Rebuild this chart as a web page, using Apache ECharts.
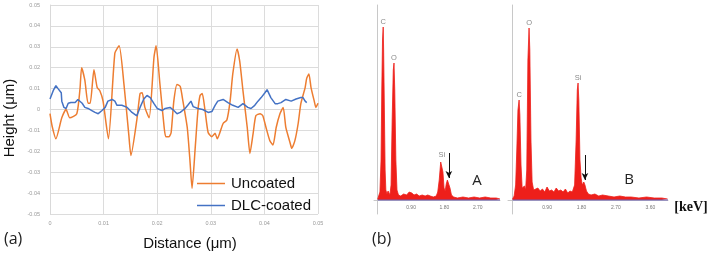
<!DOCTYPE html>
<html><head><meta charset="utf-8">
<script src="https://cdn.jsdelivr.net/npm/echarts@6/dist/echarts.min.js"></script>
<style>html,body{margin:0;padding:0;background:#fff}#c{width:709px;height:253px}</style>
</head><body><div id="c"></div>
<script>
// ---- Panel (a): surface profile ----
const seriesNames = ['Uncoated', 'DLC-coated'];
const xTicks = ['0', '0.01', '0.02', '0.03', '0.04', '0.05'];
const uncoated = [
[0.0000,-0.002],[0.0004,-0.008],[0.0011,-0.014],[0.0022,-0.004],[0.0030,0.000],[0.0037,-0.004],
[0.0050,-0.002],[0.0056,0.010],[0.0059,0.020],[0.0065,0.014],[0.0071,0.003],[0.0075,0.003],
[0.0082,0.019],[0.0088,0.0105],[0.0093,0.009],[0.0099,0.004],[0.0109,-0.014],[0.0121,0.027],
[0.0129,0.0305],[0.0138,0.012],[0.0147,-0.012],[0.0151,-0.022],[0.0162,-0.005],[0.0168,0.0076],
[0.0172,0.008],[0.0177,0.001],[0.0185,-0.004],[0.0194,0.025],[0.0198,0.0305],[0.0205,0.0124],
[0.0213,-0.0086],[0.0216,-0.013],[0.0222,-0.013],[0.0226,-0.011],[0.0231,0.004],[0.0237,0.012],
[0.0243,0.011],[0.0248,0.004],[0.0256,-0.0085],[0.0261,-0.024],[0.0265,-0.0377],[0.0271,-0.018],
[0.0276,-0.0005],[0.0280,0.0067],[0.0284,0.0076],[0.0289,0.000],[0.0295,-0.011],[0.0302,-0.013],
[0.0308,-0.0114],[0.0312,-0.014],[0.0317,-0.011],[0.0323,-0.0067],[0.0330,-0.005],[0.0336,0.004],
[0.0341,0.017],[0.0349,0.029],[0.0354,0.023],[0.0360,0.009],[0.0368,-0.0086],[0.0373,-0.021],
[0.0379,-0.0114],[0.0384,-0.003],[0.0392,-0.002],[0.0397,-0.003],[0.0403,-0.0086],[0.0410,-0.0148],
[0.0416,-0.017],[0.0422,-0.0086],[0.0429,-0.002],[0.0435,0.001],[0.0440,-0.0086],[0.0448,-0.016],
[0.0451,-0.0186],[0.0457,-0.0148],[0.0463,-0.0067],[0.0468,0.0028],[0.0476,0.0105],[0.0479,0.015],
[0.0483,0.017],[0.0487,0.0105],[0.0493,0.004],[0.0496,0.001],[0.0500,0.003]
];
const dlcCoated = [
[0.0000,0.005],[0.0006,0.009],[0.0011,0.0114],[0.0015,0.010],[0.0021,0.008],[0.0022,0.004],
[0.0026,0.001],[0.0030,0.0005],[0.0034,0.003],[0.0039,0.0033],[0.0047,0.0033],[0.0052,0.0048],
[0.0060,0.003],[0.0065,0.001],[0.0071,0.0005],[0.0078,-0.0005],[0.0084,-0.0014],[0.0090,-0.002],
[0.0097,-0.0005],[0.0103,0.001],[0.0108,0.004],[0.0116,0.0048],[0.0121,0.004],[0.0125,0.002],
[0.0134,0.002],[0.0144,0.001],[0.0153,-0.0014],[0.0162,-0.003],[0.0168,0.001],[0.0175,0.005],
[0.0181,0.0067],[0.0187,0.0057],[0.0194,0.0028],[0.0200,0.0005],[0.0209,-0.0005],[0.0215,0.0005],
[0.0224,0.001],[0.0231,-0.0005],[0.0237,-0.002],[0.0243,-0.0014],[0.0252,0.0005],[0.0257,0.002],
[0.0263,0.004],[0.0267,0.0014],[0.0276,0.0005],[0.0285,0.000],[0.0295,-0.0014],[0.0302,-0.001],
[0.0308,0.002],[0.0313,0.004],[0.0323,0.0048],[0.0332,0.0033],[0.0341,0.002],[0.0351,0.001],
[0.0360,0.0028],[0.0369,0.001],[0.0375,0.0005],[0.0382,0.002],[0.0388,0.004],[0.0394,0.0057],
[0.0401,0.008],[0.0405,0.0095],[0.0412,0.0057],[0.0420,0.0028],[0.0425,0.0028],[0.0431,0.0033],
[0.0440,0.0048],[0.0450,0.004],[0.0459,0.005],[0.0468,0.0057],[0.0472,0.0057],[0.0476,0.004],
[0.0479,0.0033]
];

// ---- Panel (b): EDS spectra (keV, relative counts) ----
const keVTicksA = [0.9, 1.8, 2.7];
const keVTicksB = [0.9, 1.8, 2.7, 3.6];
const spectrumA = [
[0.00,1],[0.03,3],[0.06,8],[0.09,40],[0.11,110],[0.13,160],[0.148,173],[0.16,150],[0.18,90],[0.20,30],
[0.22,10],[0.25,6],[0.28,9],[0.30,7],[0.33,5],[0.36,15],[0.39,80],[0.42,130],[0.44,137],[0.46,110],
[0.49,40],[0.52,10],[0.56,5],[0.62,4],[0.70,6],[0.78,5],[0.85,8],[0.92,7],[0.98,5],[1.05,6],[1.12,4],
[1.20,5],[1.28,4],[1.35,5],[1.42,4],[1.50,3],[1.58,4],[1.62,8],[1.66,20],[1.70,38],[1.73,40],[1.76,28],
[1.79,12],[1.82,9],[1.85,16],[1.88,20],[1.91,18],[1.95,12],[1.99,5],[2.05,3],[2.15,2],[2.30,3],[2.45,2],
[2.60,3],[2.75,2],[2.90,3],[3.05,2],[3.20,2],[3.30,1]
];
const spectrumB = [
[0.00,1],[0.04,4],[0.08,15],[0.11,50],[0.14,90],[0.17,100],[0.19,85],[0.22,35],[0.25,12],[0.28,10],
[0.31,14],[0.34,10],[0.37,30],[0.40,140],[0.43,172],[0.45,150],[0.48,60],[0.51,18],[0.55,10],[0.60,8],
[0.66,12],[0.72,9],[0.78,11],[0.84,8],[0.90,13],[0.96,9],[1.02,10],[1.08,8],[1.14,12],[1.20,9],[1.26,10],
[1.32,8],[1.38,11],[1.44,7],[1.50,9],[1.56,8],[1.62,15],[1.66,60],[1.69,110],[1.71,117],[1.73,100],
[1.76,40],[1.79,22],[1.82,15],[1.86,18],[1.89,15],[1.93,9],[1.98,6],[2.05,5],[2.15,6],[2.25,4],[2.35,5],
[2.50,4],[2.65,3],[2.80,4],[2.95,3],[3.10,3],[3.30,2],[3.50,3],[3.70,2],[3.90,2],[4.05,1]
];
const peakNames = ['C', 'O', 'Si'];
const peaksA = [[0.148,173],[0.44,137],[1.73,40]];
const peaksB = [[0.17,100],[0.43,172],[1.71,117]];
const arrowA = [[1.92,47],[1.92,22]];
const arrowB = [[1.89,45],[1.89,20]];

const FONT = 'Liberation Sans, Arial, sans-serif';
const red = '#ee1f1a';

function peakMarks(peaks) {
  return {
    symbol: 'circle', symbolSize: 0, silent: true,
    label: { show: true, position: 'top', distance: 1, color: '#8a8a8a', fontSize: 7.5, fontFamily: FONT,
             formatter: p => p.name },
    data: peaks.map((c, i) => ({ name: peakNames[i], coord: c }))
  };
}
function arrowMark(a) {
  return {
    silent: true, symbol: ['none', 'arrow'], symbolSize: [5, 7],
    lineStyle: { color: '#111', width: 1, type: 'solid' },
    label: { show: false },
    data: [[{ coord: a[0] }, { coord: a[1] }]]
  };
}
function specX(idx, min, max, ticks) {
  return {
    type: 'value', gridIndex: idx, min: min, max: max,
    axisLine: { show: true, lineStyle: { color: '#c8c8c8', width: 1 } },
    axisTick: { show: false },
    splitLine: { show: false },
    axisLabel: { show: true, inside: true, margin: 4, fontSize: 5, color: '#777', fontFamily: FONT,
                 customValues: ticks, formatter: v => v.toFixed(2) }
  };
}
function specY(idx) {
  return {
    type: 'value', gridIndex: idx, min: -14, max: 195,
    axisLine: { show: true, lineStyle: { color: '#c8c8c8', width: 1 } },
    axisTick: { show: false }, axisLabel: { show: false }, splitLine: { show: false }
  };
}

const chart = echarts.init(document.getElementById('c'), null, { renderer: 'canvas' });
chart.setOption({
  animation: false,
  backgroundColor: '#fff',
  grid: [
    { left: 50, right: 391, top: 5, bottom: 39 },
    { left: 374, width: 126, top: 5, height: 209 },
    { left: 508, width: 160, top: 5, height: 209 }
  ],
  legend: {
    data: seriesNames, orient: 'vertical', left: 197, top: 176,
    icon: 'rect', itemWidth: 28, itemHeight: 1.5, itemGap: 7, padding: 0,
    textStyle: { fontSize: 15, color: '#111', fontFamily: FONT, padding: [0, 0, 0, 1] }
  },
  xAxis: [
    { type: 'value', gridIndex: 0, min: 0, max: 0.05, interval: 0.01,
      axisLine: { show: true, lineStyle: { color: '#d9d9d9' } }, axisTick: { show: false },
      splitLine: { show: true, lineStyle: { color: '#dcdcdc', width: 1 } },
      axisLabel: { fontSize: 5.5, color: '#999', margin: 6, fontFamily: FONT,
                   formatter: v => xTicks[Math.round(v / 0.01)] } },
    specX(1, -0.1, 3.3, keVTicksA),
    specX(2, -0.12, 4.06, keVTicksB)
  ],
  yAxis: [
    { type: 'value', gridIndex: 0, min: -0.05, max: 0.05, interval: 0.01,
      axisLine: { show: true, lineStyle: { color: '#d9d9d9' } }, axisTick: { show: false },
      splitLine: { show: true, lineStyle: { color: '#dcdcdc', width: 1 } },
      axisLabel: { fontSize: 5.5, color: '#999', margin: 10, fontFamily: FONT,
                   formatter: v => Math.abs(v) < 1e-9 ? '0' : v.toFixed(2) } },
    specY(1), specY(2)
  ],
  graphic: [
    { type: 'text', left: 4, top: 231, style: { text: '(a)', fontSize: 16, fill: '#222', fontFamily: 'Open Sans, ' + FONT } },
    { type: 'text', left: 372, top: 231, style: { text: '(b)', fontSize: 16, fill: '#222', fontFamily: 'Open Sans, ' + FONT } },
    { type: 'text', x: 10, y: 118, rotation: Math.PI / 2,
      style: { text: 'Height (μm)', fontSize: 15, fill: '#111', fontFamily: FONT, align: 'center', verticalAlign: 'middle' } },
    { type: 'text', x: 190, y: 244,
      style: { text: 'Distance (μm)', fontSize: 15, fill: '#111', fontFamily: FONT, align: 'center', verticalAlign: 'middle' } },
    { type: 'text', x: 477, y: 181,
      style: { text: 'A', fontSize: 15, fill: '#222', fontFamily: 'Open Sans, ' + FONT, align: 'center', verticalAlign: 'middle' } },
    { type: 'text', x: 629, y: 180,
      style: { text: 'B', fontSize: 15, fill: '#222', fontFamily: 'Open Sans, ' + FONT, align: 'center', verticalAlign: 'middle' } },
    { type: 'text', x: 691, y: 207,
      style: { text: '[keV]', fontSize: 14, fontWeight: 'bold', fill: '#111', fontFamily: 'Liberation Serif, serif', align: 'center', verticalAlign: 'middle' } }
  ],
  series: [
    { name: 'Uncoated', type: 'line', xAxisIndex: 0, yAxisIndex: 0, data: uncoated, symbol: 'none',
      smooth: 0.2, lineStyle: { color: '#ED7D31', width: 1.5 }, itemStyle: { color: '#ED7D31' }, z: 3 },
    { name: 'DLC-coated', type: 'line', xAxisIndex: 0, yAxisIndex: 0, data: dlcCoated, symbol: 'none',
      lineStyle: { color: '#4472C4', width: 1.5 }, itemStyle: { color: '#4472C4' }, z: 4 },
    { name: 'specA', type: 'line', xAxisIndex: 1, yAxisIndex: 1, data: spectrumA, symbol: 'none',
      lineStyle: { color: red, width: 0.8 }, areaStyle: { color: red, opacity: 1 },
      markPoint: peakMarks(peaksA), markLine: arrowMark(arrowA) },
    { name: 'baseA', type: 'line', xAxisIndex: 1, yAxisIndex: 1, data: [[0, 0], [3.3, 0]], symbol: 'none',
      lineStyle: { color: '#6a5fb5', width: 1 }, z: 3 },
    { name: 'specB', type: 'line', xAxisIndex: 2, yAxisIndex: 2, data: spectrumB, symbol: 'none',
      lineStyle: { color: red, width: 0.8 }, areaStyle: { color: red, opacity: 1 },
      markPoint: peakMarks(peaksB), markLine: arrowMark(arrowB) },
    { name: 'baseB', type: 'line', xAxisIndex: 2, yAxisIndex: 2, data: [[0, 0], [4.06, 0]], symbol: 'none',
      lineStyle: { color: '#6a5fb5', width: 1 }, z: 3 }
  ]
});
</script></body></html>
